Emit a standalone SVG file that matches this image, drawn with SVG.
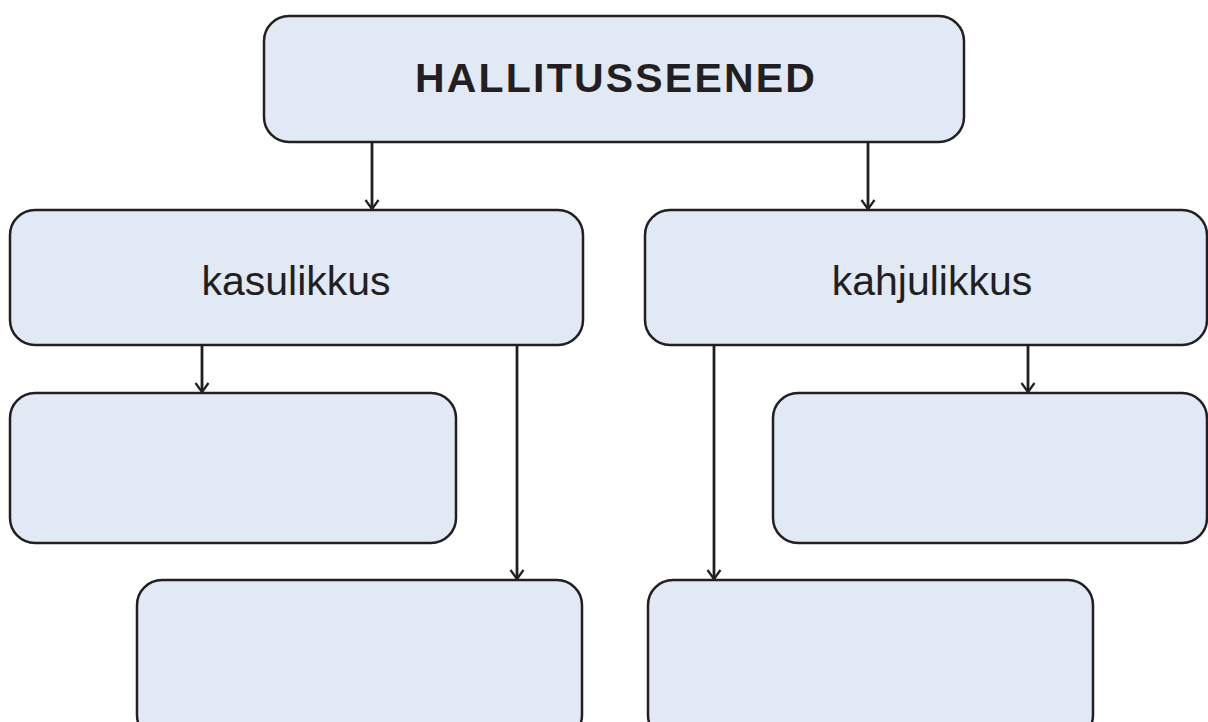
<svg xmlns="http://www.w3.org/2000/svg" width="1208" height="722" viewBox="0 0 1208 722">
<defs>
<style>
.box{fill:#e1e9f5;stroke:#231f20;stroke-width:2.5}
.con{fill:none;stroke:#231f20;stroke-width:2.8}
.head{fill:none;stroke:#231f20;stroke-width:2.2}
.t{font-family:"Liberation Sans",Arial,sans-serif;fill:#231f20}
</style>
<marker id="arr" markerWidth="14" markerHeight="16" refX="11" refY="8" orient="auto" markerUnits="userSpaceOnUse" viewBox="0 0 14 16">
<path d="M2,1.5 L11,8 L2,14.5" class="head"/>
</marker>
</defs>
<rect width="1208" height="722" fill="#ffffff"/>
<g id="connectors">
<line class="con" x1="372" y1="142" x2="372" y2="209" marker-end="url(#arr)"/>
<line class="con" x1="868" y1="142" x2="868" y2="209" marker-end="url(#arr)"/>
<line class="con" x1="202" y1="345" x2="202" y2="392" marker-end="url(#arr)"/>
<line class="con" x1="517" y1="345" x2="517" y2="579" marker-end="url(#arr)"/>
<line class="con" x1="714" y1="345" x2="714" y2="579" marker-end="url(#arr)"/>
<line class="con" x1="1028" y1="345" x2="1028" y2="392" marker-end="url(#arr)"/>
</g>
<g id="n-top">
<rect class="box" x="264" y="16" width="700" height="126" rx="25"/>
<text class="t" x="415" y="92" font-size="41" font-weight="bold" letter-spacing="2.2">HALLITUSSEENED</text>
</g>
<g id="n-kasulikkus">
<rect class="box" x="10" y="210" width="573" height="135" rx="25"/>
<text class="t" x="296" y="295" font-size="41" text-anchor="middle">kasulikkus</text>
</g>
<g id="n-kahjulikkus">
<rect class="box" x="645" y="210" width="562" height="135" rx="25"/>
<text class="t" x="932" y="295" font-size="41" text-anchor="middle">kahjulikkus</text>
</g>
<g id="n-left1">
<rect class="box" x="10" y="393" width="446" height="150" rx="25"/>
</g>
<g id="n-left2">
<rect class="box" x="137" y="580" width="445" height="160" rx="25"/>
</g>
<g id="n-right1">
<rect class="box" x="773" y="393" width="434" height="150" rx="25"/>
</g>
<g id="n-right2">
<rect class="box" x="648" y="580" width="445" height="160" rx="25"/>
</g>
</svg>
